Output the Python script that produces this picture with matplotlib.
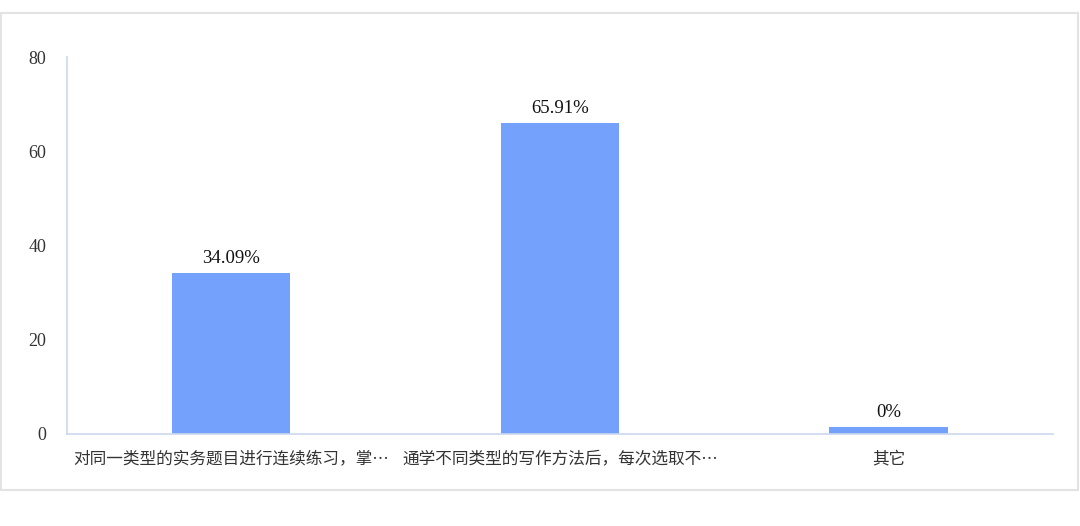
import matplotlib
matplotlib.use('Agg')
import matplotlib.pyplot as plt
from matplotlib.patches import Rectangle

categories = ["对同一类型的实务题目进行连续练习，掌…", "通学不同类型的写作方法后，每次选取不…", "其它"]
values = [34.09, 65.91, 0]
value_labels = ["34.09%", "65.91%", "0%"]
yticks = [0, 20, 40, 60, 80]

BAR_COLOR = "#73a1fb"
AXIS_COLOR = "#cbd8ee"
MIN_BAR = 1.5  # the source tool keeps a sliver for zero values

fig = plt.figure(figsize=(10.8, 5.26), dpi=100)
fig.patches.append(Rectangle((0.001, 0.068), 0.997, 0.907, transform=fig.transFigure,
                             fill=False, edgecolor="#e3e3e3", linewidth=1.5))
ax = fig.add_axes([0.062, 0.175, 0.913, 0.7166])

x = list(range(len(categories)))
heights = [max(v, MIN_BAR) for v in values]
bars = ax.bar(x, heights, width=0.36, color=BAR_COLOR, zorder=2)
for bar, lab in zip(bars, value_labels):
    ax.annotate(lab, (bar.get_x() + bar.get_width() / 2, bar.get_height()),
                xytext=(0, 4.5), textcoords="offset points", ha="center", va="bottom",
                fontsize=13.5, family="Liberation Serif", color="#111111")

ax.set_xlim(-0.5, 2.5)
ax.set_ylim(0, 80)
ax.set_yticks(yticks)
ax.set_yticklabels([str(t) for t in yticks], family="Liberation Serif", fontsize=13,
                   color="#333333")
ax.set_xticks(x)
ax.set_xticklabels(categories, family=["Noto Sans CJK SC", "DejaVu Sans"], fontsize=12,
                   color="#333333")
ax.tick_params(axis="y", length=0, pad=15)
ax.tick_params(axis="x", length=0, pad=12)

for s in ["top", "right"]:
    ax.spines[s].set_visible(False)
for s in ["left", "bottom"]:
    ax.spines[s].set_color(AXIS_COLOR)
    ax.spines[s].set_linewidth(1.2)

fig.savefig("out.png", dpi=100)
